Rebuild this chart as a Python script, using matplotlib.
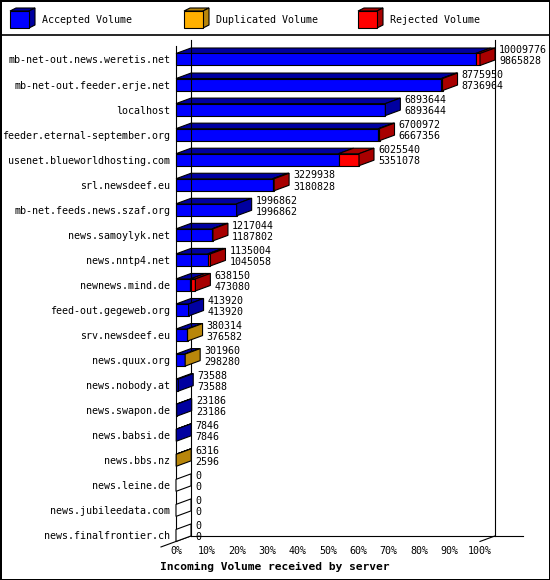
import matplotlib
matplotlib.use("Agg")
import matplotlib.pyplot as plt
from matplotlib.patches import Polygon
from matplotlib.lines import Line2D

plt.rcParams['font.family'] = ['DejaVu Sans Mono']
plt.rcParams['font.size'] = 7.2

hosts = ["mb-net-out.news.weretis.net", "mb-net-out.feeder.erje.net", "localhost",
         "feeder.eternal-september.org", "usenet.blueworldhosting.com", "srl.newsdeef.eu",
         "mb-net.feeds.news.szaf.org", "news.samoylyk.net", "news.nntp4.net",
         "newnews.mind.de", "feed-out.gegeweb.org", "srv.newsdeef.eu", "news.quux.org",
         "news.nobody.at", "news.swapon.de", "news.babsi.de", "news.bbs.nz",
         "news.leine.de", "news.jubileedata.com", "news.finalfrontier.ch"]
accepted = [9865828, 8736964, 6893644, 6667356, 5351078, 3180828, 1996862, 1187802,
            1045058, 473080, 413920, 376582, 298280, 73588, 23186, 7846, 2596, 0, 0, 0]
duplicated = [0, 0, 0, 0, 0, 0, 0, 0, 0, 0, 0, 3732, 3680, 0, 0, 0, 3720, 0, 0, 0]
rejected = [143948, 38986, 0, 33616, 674462, 49110, 0, 29242, 89946, 165070,
            0, 0, 0, 0, 0, 0, 0, 0, 0, 0]
xticks = [0, 10, 20, 30, 40, 50, 60, 70, 80, 90, 100]
legend_names = ["Accepted Volume", "Duplicated Volume", "Rejected Volume"]

front_cols = ["#0000FF", "#FFB000", "#FF0000"]
dark_cols = ["#0000A0", "#B8860B", "#A80000"]

W, H = 550, 580
def fx(px):
    return px / W
def fy(py):
    return 1 - py / H

# pseudo 3d geometry (pixels -> data units)
PX_PCT = 3.04
ROW_PX = 25.05
ROW0 = 59.5
DX = 15 / PX_PCT
DY = 5.5 / ROW_PX
HH = 6.0 / ROW_PX
n = len(hosts)
y_bot = (n - 1) + HH
y_top = (38 - ROW0) / ROW_PX
floor_px = ROW0 + y_bot * ROW_PX

fig = plt.figure(figsize=(5.5, 5.8), dpi=100)
fig.patch.set_facecolor("white")
fig.patch.set_edgecolor("black")
fig.patch.set_linewidth(2)

ax = fig.add_axes([fx(176), fy(floor_px), fx(495) - fx(176), fy(38) - fy(floor_px)])
ax.set_xlim(0, 100 + DX)
ax.set_ylim(y_bot, y_top)
for s in ax.spines.values():
    s.set_visible(False)

lw = 0.8
back_floor = y_bot - DY
# walls and floor
ax.plot([DX, DX], [y_top + 0.08, back_floor], color="black", lw=lw, clip_on=False)
ax.plot([100 + DX, 100 + DX], [y_top + 0.08, back_floor], color="black", lw=lw, clip_on=False)
ax.plot([DX, (523 - 176) / PX_PCT], [back_floor, back_floor], color="black", lw=lw, clip_on=False)
ax.plot([0, 0], [y_top + 0.3, y_bot], color="black", lw=lw, clip_on=False)
ax.plot([-DX, DX], [y_bot + DY, back_floor], color="black", lw=lw, clip_on=False)
ax.plot([100, 100 + DX], [y_bot, back_floor], color="black", lw=lw, clip_on=False)

top_max = max(a + d + r for a, d, r in zip(accepted, duplicated, rejected))

for i in range(n):
    segs = [accepted[i], duplicated[i], rejected[i]]
    total = sum(segs)
    left = 0.0
    last = None
    for k, v in enumerate(segs):
        if v <= 0:
            continue
        w = v / top_max * 100
        top = Polygon([(left, i - HH), (left + w, i - HH), (left + w + DX, i - HH - DY),
                       (left + DX, i - HH - DY)], closed=True, facecolor=dark_cols[k],
                      edgecolor="black", lw=lw, clip_on=False)
        ax.add_patch(top)
        ax.barh(i, w, left=left, height=2 * HH, color=front_cols[k], edgecolor="black",
                linewidth=lw, clip_on=False)
        left += w
        last = k
    side_col = dark_cols[last] if last is not None else "white"
    side = Polygon([(left, i - HH), (left + DX, i - HH - DY), (left + DX, i + HH - DY),
                    (left, i + HH)], closed=True, facecolor=side_col, edgecolor="black",
                   lw=lw, clip_on=False, zorder=3)
    ax.add_patch(side)
    tx = left + DX + 1.4
    ax.text(tx, i - 0.37, str(total), ha="left", va="center", clip_on=False)
    ax.text(tx, i + 0.07, str(accepted[i]), ha="left", va="center", clip_on=False)

ax.set_yticks(range(n), labels=hosts)
ax.set_xticks(xticks, labels=[f"{v}%" for v in xticks])
ax.tick_params(axis="y", length=0, pad=4)
ax.tick_params(axis="x", length=0, pad=3)

fig.text(0.5, fy(567), "Incoming Volume received by server", ha="center", va="center",
         fontweight="bold", fontsize=8.1)

# legend strip
lax = fig.add_axes([0, fy(35), 1, 35 / H])
lax.set_xlim(0, W)
lax.set_ylim(35, 0)
lax.axis("off")
leg_x = [10, 184, 358]
for k, name in enumerate(legend_names):
    x0 = leg_x[k]
    lax.add_patch(Polygon([(x0, 11), (x0 + 19, 11), (x0 + 25, 8), (x0 + 6, 8)],
                          facecolor=dark_cols[k], edgecolor="black", lw=lw))
    lax.add_patch(Polygon([(x0 + 19, 11), (x0 + 25, 8), (x0 + 25, 25), (x0 + 19, 28)],
                          facecolor=dark_cols[k], edgecolor="black", lw=lw))
    lax.add_patch(Polygon([(x0, 11), (x0 + 19, 11), (x0 + 19, 28), (x0, 28)],
                          facecolor=front_cols[k], edgecolor="black", lw=lw))
    lax.text(x0 + 32, 20, name, ha="left", va="center")

fig.add_artist(Line2D([0, 1], [fy(35), fy(35)], color="black", lw=1.2))

fig.savefig("out.png", dpi=100)
